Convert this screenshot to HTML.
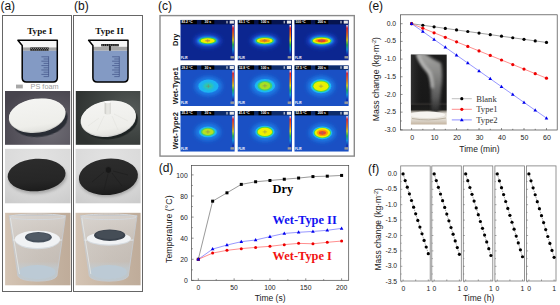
<!DOCTYPE html><html><head><meta charset="utf-8"><style>
html,body{margin:0;padding:0;background:#fff;width:560px;height:305px;overflow:hidden}
svg{display:block;position:absolute;left:0;top:0}
text{font-family:"Liberation Sans",sans-serif}
.sf{font-family:"Liberation Serif",serif;font-weight:bold}.sr{font-family:"Liberation Serif",serif}
</style></head><body>
<svg width="560" height="305" viewBox="0 0 560 305">
<defs>
<radialGradient id="hotDry" cx="0.5" cy="0.5" r="0.5">
<stop offset="0" stop-color="#ff5a10"/><stop offset="0.25" stop-color="#ffb000"/><stop offset="0.5" stop-color="#f0f000"/>
<stop offset="0.68" stop-color="#30e040"/><stop offset="0.8" stop-color="#10b0e0"/><stop offset="1" stop-color="#1840c0" stop-opacity="0"/></radialGradient>
<linearGradient id="cbar" x1="0" y1="0" x2="0" y2="1">
<stop offset="0" stop-color="#ffffff"/><stop offset="0.1" stop-color="#ff2020"/><stop offset="0.35" stop-color="#ff8000"/>
<stop offset="0.5" stop-color="#f0e000"/><stop offset="0.65" stop-color="#20c040"/><stop offset="0.8" stop-color="#10a0e0"/><stop offset="1" stop-color="#1010a0"/></linearGradient>
</defs>
<text x="0.4" y="10.0" font-size="12" fill="#111">(a)</text>
<text x="74.1" y="10.0" font-size="12" fill="#111">(b)</text>
<text x="158.0" y="10.0" font-size="12" fill="#111">(c)</text>
<text x="158.7" y="172.4" font-size="12" fill="#111">(d)</text>
<text x="368.4" y="10.0" font-size="12" fill="#111">(e)</text>
<text x="368.0" y="172.6" font-size="12" fill="#111">(f)</text>
<rect x="2.5" y="15.5" width="69" height="276" fill="none" stroke="#666" stroke-width="1"/>
<rect x="73.5" y="15.5" width="69" height="276" fill="none" stroke="#666" stroke-width="1"/>
<rect x="160" y="15.6" width="194.3" height="140.5" fill="none" stroke="#8a8a8a" stroke-width="1.4"/>

<rect x="22.200000000000003" y="40.3" width="35.1" height="7.100000000000001" fill="#f6f6f6"/>
<rect x="22.200000000000003" y="47.4" width="35.1" height="3.3999999999999986" fill="#a5a5a5"/>
<path d="M22.200000000000003 50.8 H57.300000000000004 V77.7 Q57.300000000000004 81.9 53.1 81.9 H26.400000000000002 Q22.200000000000003 81.9 22.200000000000003 77.7 Z" fill="#839ac4"/>
<line x1="41.4" y1="56.8" x2="48.6" y2="56.8" stroke="#34457a" stroke-width="0.6"/>
<line x1="43.6" y1="59.0" x2="48.6" y2="59.0" stroke="#34457a" stroke-width="0.6"/>
<line x1="41.4" y1="61.2" x2="48.6" y2="61.2" stroke="#34457a" stroke-width="0.6"/>
<line x1="43.6" y1="63.4" x2="48.6" y2="63.4" stroke="#34457a" stroke-width="0.6"/>
<line x1="41.4" y1="65.6" x2="48.6" y2="65.6" stroke="#34457a" stroke-width="0.6"/>
<line x1="43.6" y1="67.8" x2="48.6" y2="67.8" stroke="#34457a" stroke-width="0.6"/>
<line x1="41.4" y1="70.0" x2="48.6" y2="70.0" stroke="#34457a" stroke-width="0.6"/>
<line x1="43.6" y1="72.2" x2="48.6" y2="72.2" stroke="#34457a" stroke-width="0.6"/>
<line x1="41.4" y1="74.4" x2="48.6" y2="74.4" stroke="#34457a" stroke-width="0.6"/>
<line x1="43.6" y1="76.6" x2="48.6" y2="76.6" stroke="#34457a" stroke-width="0.6"/>
<line x1="48.6" y1="56.4" x2="48.6" y2="76.6" stroke="#34457a" stroke-width="0.6"/>
<path d="M17.900000000000002 40.3 L22.200000000000003 45.5 V77.7 Q22.200000000000003 81.9 26.400000000000002 81.9 H53.1 Q57.300000000000004 81.9 57.300000000000004 77.7 V40.3 Z" fill="none" stroke="#000" stroke-width="1.5" stroke-linejoin="round"/>

<rect x="92.9" y="40.3" width="35.099999999999994" height="6.5" fill="#f6f6f6"/>
<rect x="92.9" y="46.8" width="35.099999999999994" height="3.9000000000000057" fill="#a5a5a5"/>
<path d="M92.9 50.7 H128.0 V77.7 Q128.0 81.9 123.8 81.9 H97.10000000000001 Q92.9 81.9 92.9 77.7 Z" fill="#839ac4"/>
<line x1="112.1" y1="56.8" x2="119.3" y2="56.8" stroke="#34457a" stroke-width="0.6"/>
<line x1="114.3" y1="59.0" x2="119.3" y2="59.0" stroke="#34457a" stroke-width="0.6"/>
<line x1="112.1" y1="61.2" x2="119.3" y2="61.2" stroke="#34457a" stroke-width="0.6"/>
<line x1="114.3" y1="63.4" x2="119.3" y2="63.4" stroke="#34457a" stroke-width="0.6"/>
<line x1="112.1" y1="65.6" x2="119.3" y2="65.6" stroke="#34457a" stroke-width="0.6"/>
<line x1="114.3" y1="67.8" x2="119.3" y2="67.8" stroke="#34457a" stroke-width="0.6"/>
<line x1="112.1" y1="70.0" x2="119.3" y2="70.0" stroke="#34457a" stroke-width="0.6"/>
<line x1="114.3" y1="72.2" x2="119.3" y2="72.2" stroke="#34457a" stroke-width="0.6"/>
<line x1="112.1" y1="74.4" x2="119.3" y2="74.4" stroke="#34457a" stroke-width="0.6"/>
<line x1="114.3" y1="76.6" x2="119.3" y2="76.6" stroke="#34457a" stroke-width="0.6"/>
<line x1="119.3" y1="56.4" x2="119.3" y2="76.6" stroke="#34457a" stroke-width="0.6"/>
<path d="M88.6 40.3 L92.9 45.5 V77.7 Q92.9 81.9 97.10000000000001 81.9 H123.8 Q128.0 81.9 128.0 77.7 V40.3 Z" fill="none" stroke="#000" stroke-width="1.5" stroke-linejoin="round"/>
<rect x="30.3" y="47.5" width="18.4" height="3.2" fill="#1a1a1a"/>
<rect x="30.9" y="48.0" width="1.0" height="0.9" fill="#9a9a9a"/>
<rect x="31.9" y="49.4" width="1.0" height="0.9" fill="#9a9a9a"/>
<rect x="32.9" y="48.0" width="1.0" height="0.9" fill="#9a9a9a"/>
<rect x="33.9" y="49.4" width="1.0" height="0.9" fill="#9a9a9a"/>
<rect x="34.9" y="48.0" width="1.0" height="0.9" fill="#9a9a9a"/>
<rect x="35.9" y="49.4" width="1.0" height="0.9" fill="#9a9a9a"/>
<rect x="36.9" y="48.0" width="1.0" height="0.9" fill="#9a9a9a"/>
<rect x="37.9" y="49.4" width="1.0" height="0.9" fill="#9a9a9a"/>
<rect x="38.9" y="48.0" width="1.0" height="0.9" fill="#9a9a9a"/>
<rect x="39.9" y="49.4" width="1.0" height="0.9" fill="#9a9a9a"/>
<rect x="40.9" y="48.0" width="1.0" height="0.9" fill="#9a9a9a"/>
<rect x="41.9" y="49.4" width="1.0" height="0.9" fill="#9a9a9a"/>
<rect x="42.9" y="48.0" width="1.0" height="0.9" fill="#9a9a9a"/>
<rect x="43.9" y="49.4" width="1.0" height="0.9" fill="#9a9a9a"/>
<rect x="44.9" y="48.0" width="1.0" height="0.9" fill="#9a9a9a"/>
<rect x="45.9" y="49.4" width="1.0" height="0.9" fill="#9a9a9a"/>
<rect x="46.9" y="48.0" width="1.0" height="0.9" fill="#9a9a9a"/>
<rect x="47.9" y="49.4" width="1.0" height="0.9" fill="#9a9a9a"/>
<rect x="101.2" y="44.0" width="17.6" height="2.3" fill="#1a1a1a"/>
<rect x="101.8" y="44.6" width="1.0" height="1.0" fill="#9a9a9a"/>
<rect x="103.9" y="44.6" width="1.0" height="1.0" fill="#9a9a9a"/>
<rect x="106.0" y="44.6" width="1.0" height="1.0" fill="#9a9a9a"/>
<rect x="108.1" y="44.6" width="1.0" height="1.0" fill="#9a9a9a"/>
<rect x="110.2" y="44.6" width="1.0" height="1.0" fill="#9a9a9a"/>
<rect x="112.3" y="44.6" width="1.0" height="1.0" fill="#9a9a9a"/>
<rect x="114.4" y="44.6" width="1.0" height="1.0" fill="#9a9a9a"/>
<rect x="116.5" y="44.6" width="1.0" height="1.0" fill="#9a9a9a"/>
<rect x="109.0" y="46.0" width="1.9" height="4.7" fill="#1a1a1a"/>
<text class="sf" x="39.7" y="33.5" font-size="9.2" fill="#111" text-anchor="middle">Type I</text>
<text class="sf" x="109.5" y="33.5" font-size="9.1" fill="#111" text-anchor="middle">Type II</text>
<rect x="16.0" y="84.6" width="6.8" height="3.8" fill="#a8a8a8"/>
<text x="30.6" y="88.5" font-size="7.3" fill="#9c9c9c">PS foam</text>
<defs><linearGradient id="bgA1" x1="0" y1="0" x2="1" y2="1">
<stop offset="0" stop-color="#3e3c42"/><stop offset="0.6" stop-color="#5c5a62"/><stop offset="1" stop-color="#48464c"/></linearGradient>
<linearGradient id="bgB1" x1="0" y1="0" x2="1" y2="1">
<stop offset="0" stop-color="#353a38"/><stop offset="0.6" stop-color="#535856"/><stop offset="1" stop-color="#3d4240"/></linearGradient>
<linearGradient id="bgA2" x1="0" y1="0" x2="0" y2="1">
<stop offset="0" stop-color="#dadada"/><stop offset="1" stop-color="#cacaca"/></linearGradient>
<linearGradient id="bgA3" x1="0" y1="0" x2="1" y2="0">
<stop offset="0" stop-color="#d4c4b4"/><stop offset="0.5" stop-color="#c8b6a4"/><stop offset="1" stop-color="#bfac9a"/></linearGradient>
<linearGradient id="glass" x1="0" y1="0" x2="0" y2="1">
<stop offset="0" stop-color="#dde2e4"/><stop offset="0.7" stop-color="#d0dade"/><stop offset="0.82" stop-color="#b8ccd8"/><stop offset="1" stop-color="#a9c0d0"/></linearGradient>
<filter id="bl1" x="-20%" y="-20%" width="140%" height="140%"><feGaussianBlur stdDeviation="1.5"/></filter>
<filter id="bl05" x="-20%" y="-20%" width="140%" height="140%"><feGaussianBlur stdDeviation="0.6"/></filter>
</defs>
<defs>
<radialGradient id="bgA1r" cx="0.7" cy="0.75" r="0.85"><stop offset="0" stop-color="#6e6c74"/><stop offset="0.5" stop-color="#5a5760"/><stop offset="1" stop-color="#47444d"/></radialGradient>
<radialGradient id="bgB1r" cx="0.85" cy="0.35" r="0.9"><stop offset="0" stop-color="#555a58"/><stop offset="0.5" stop-color="#404543"/><stop offset="1" stop-color="#2e3230"/></radialGradient>
<radialGradient id="bgA2r" cx="0.5" cy="0.2" r="0.9"><stop offset="0" stop-color="#e2e2e2"/><stop offset="0.6" stop-color="#dadada"/><stop offset="1" stop-color="#cccccc"/></radialGradient>
<linearGradient id="diskW" x1="0" y1="0" x2="0" y2="1"><stop offset="0" stop-color="#f4f4f2"/><stop offset="0.8" stop-color="#eeeeea"/><stop offset="1" stop-color="#e2e2de"/></linearGradient>
<linearGradient id="diskK" x1="0" y1="0" x2="0" y2="1"><stop offset="0" stop-color="#2c2c2c"/><stop offset="0.7" stop-color="#262626"/><stop offset="1" stop-color="#1c1c1c"/></linearGradient>
</defs>
<rect x="5" y="91" width="65.2" height="53.8" fill="url(#bgA1r)"/>
<ellipse cx="40.0" cy="120.0" rx="27.8" ry="16.8" fill="#262a32" opacity="0.95" filter="url(#bl05)" transform="rotate(-8 40.0 120.0)"/>
<ellipse cx="37.2" cy="115.8" rx="28.6" ry="16.8" fill="#cfcfcb" transform="rotate(-8 37.2 115.8)"/>
<ellipse cx="37.2" cy="115.1" rx="28.4" ry="16.4" fill="url(#diskW)" transform="rotate(-8 37.2 115.1)"/>
<rect x="75.8" y="91" width="64.5" height="53.8" fill="url(#bgB1r)"/>
<ellipse cx="110.5" cy="121.5" rx="27.5" ry="17.5" fill="#1e2422" opacity="0.95" filter="url(#bl05)" transform="rotate(-9 110.5 121.5)"/>
<ellipse cx="108.3" cy="119.0" rx="27.9" ry="17.7" fill="#d4d4d2" transform="rotate(-9 108.3 119.0)"/>
<ellipse cx="108.3" cy="118.2" rx="27.7" ry="17.3" fill="url(#diskW)" transform="rotate(-9 108.3 118.2)"/>
<path d="M99 118 L88 126 M104 116 L97 131 M112 116 L118 130 M114 114 L128 121" stroke="#e2e2de" stroke-width="0.6" fill="none"/>
<path d="M104.6 102.3 Q107.7 100.8 110.8 102.3 V113.5 Q107.7 115.8 104.6 113.5 Z" fill="#e6e6e2"/>
<path d="M104.6 102.3 Q105.5 102 106.2 101.8 V114.4 Q105.4 114.1 104.6 113.5 Z" fill="#d2d2ce"/>
<path d="M109.6 101.7 Q110.4 101.9 110.8 102.3 V113.5 Q110.2 114.2 109.6 114.5 Z" fill="#dadad6"/>
<ellipse cx="107.7" cy="102.2" rx="3.1" ry="1.1" fill="#fafafa"/>
<rect x="5" y="148.8" width="65.5" height="54.5" fill="url(#bgA2r)"/>
<ellipse cx="37.5" cy="177.5" rx="29" ry="16" fill="#8a8a8a" opacity="0.7" filter="url(#bl1)" transform="rotate(-4 37.5 177.5)"/>
<ellipse cx="36.6" cy="175" rx="29" ry="16.2" fill="url(#diskK)" transform="rotate(-4 36.6 175)"/>
<rect x="75.6" y="148.8" width="65" height="54.5" fill="url(#bgA2r)"/>
<ellipse cx="109" cy="179" rx="29.5" ry="17.5" fill="#8a8a8a" opacity="0.7" filter="url(#bl1)" transform="rotate(-5 109 179)"/>
<ellipse cx="108.4" cy="176.8" rx="29.6" ry="18.2" fill="url(#diskK)" transform="rotate(-5 108.4 176.8)"/>
<ellipse cx="108.4" cy="170" rx="3.2" ry="3.4" fill="#181818" stroke="#333" stroke-width="0.5"/>
<path d="M104 172 L92 182 M108 174 L104 190 M112 173 L122 186 M113 171 L128 175" stroke="#1c1c1c" stroke-width="0.6" fill="none"/>
<defs><linearGradient id="glass2" x1="0" y1="0" x2="0" y2="1">
<stop offset="0" stop-color="#dcdcdc" stop-opacity="0.7"/><stop offset="0.35" stop-color="#d0d2d4" stop-opacity="0.55"/><stop offset="0.7" stop-color="#c8ced4" stop-opacity="0.45"/><stop offset="0.8" stop-color="#c0ccd4" stop-opacity="0.8"/><stop offset="1" stop-color="#bccad4" stop-opacity="0.9"/></linearGradient></defs>
<rect x="5.1" y="212.8" width="65.4" height="72.5" fill="url(#bgA3)"/>
<path d="M9.2 215.5 L17.9 276 Q20.4 281 37.4 281.2 Q54.4 281 56.9 276 L65.6 215.5 Z" fill="url(#glass2)" stroke="#c6cace" stroke-width="0.9"/>
<ellipse cx="37.4" cy="216.8" rx="27.6" ry="2.8" fill="none" stroke="#d4d8dc" stroke-width="1.0"/>
<path d="M12.899999999999999 240 Q37.4 243 61.9 240" stroke="#e8ecef" stroke-width="0.9" fill="none"/>
<ellipse cx="37.4" cy="272" rx="18" ry="7" fill="#bccbd6" opacity="0.95" filter="url(#bl05)"/>
<path d="M10.399999999999999 218 L19.4 274" stroke="#e4e8ea" stroke-width="1.0" opacity="0.8" fill="none"/>
<ellipse cx="37.4" cy="240.10000000000002" rx="22.6" ry="9.1" fill="#d6dbe0"/>
<ellipse cx="37.4" cy="239.3" rx="22.6" ry="8.6" fill="#f0f2f4"/>
<ellipse cx="38.4" cy="237.3" rx="13.4" ry="5.2" fill="#46505c"/>
<ellipse cx="38.4" cy="236.70000000000002" rx="11.4" ry="3.8000000000000003" fill="#fff" opacity="0.06"/>
<rect x="75.6" y="212.8" width="65.0" height="72.5" fill="url(#bgA3)"/>
<path d="M80.6 215.5 L89.3 276 Q91.8 281 108.8 281.2 Q125.8 281 128.3 276 L137.0 215.5 Z" fill="url(#glass2)" stroke="#c6cace" stroke-width="0.9"/>
<ellipse cx="108.8" cy="216.8" rx="27.6" ry="2.8" fill="none" stroke="#d4d8dc" stroke-width="1.0"/>
<path d="M84.3 240 Q108.8 243 133.3 240" stroke="#e8ecef" stroke-width="0.9" fill="none"/>
<ellipse cx="108.8" cy="272" rx="18" ry="7" fill="#bccbd6" opacity="0.95" filter="url(#bl05)"/>
<path d="M81.8 218 L90.8 274" stroke="#e4e8ea" stroke-width="1.0" opacity="0.8" fill="none"/>
<ellipse cx="108.8" cy="239.20000000000002" rx="22.0" ry="6.6" fill="#d6dbe0"/>
<ellipse cx="108.8" cy="238.4" rx="22.0" ry="6.1" fill="#f0f2f4"/>
<ellipse cx="109.7" cy="235.2" rx="15.6" ry="5.8" fill="#3a424c"/>
<ellipse cx="109.7" cy="234.6" rx="13.6" ry="4.4" fill="#fff" opacity="0.06"/>
<defs><filter id="tb2" x="-50%" y="-50%" width="200%" height="200%"><feGaussianBlur stdDeviation="2.2"/></filter><filter id="tb1" x="-50%" y="-50%" width="200%" height="200%"><feGaussianBlur stdDeviation="0.9"/></filter><filter id="tb05" x="-50%" y="-50%" width="200%" height="200%"><feGaussianBlur stdDeviation="0.55"/></filter><clipPath id="tclip"><rect x="0" y="0" width="54.5" height="40.8"/></clipPath></defs>
<g transform="translate(180.3 19.8)"><g clip-path="url(#tclip)">
<rect x="0" y="0" width="54.5" height="40.8" fill="#0c2690"/>
<rect x="0" y="0" width="54.5" height="4.6" fill="#000" opacity="0.45"/>
<ellipse cx="27.40" cy="20.90" rx="13.5" ry="6.8" fill="#1a48d0" filter="url(#tb2)"/>
<ellipse cx="27.40" cy="20.90" rx="10.3" ry="4.3" fill="#18a8f0" filter="url(#tb1)"/>
<ellipse cx="27.40" cy="20.90" rx="8.6" ry="3.3" fill="#40d040" filter="url(#tb05)"/>
<ellipse cx="27.40" cy="20.90" rx="7" ry="2.5" fill="#f0f000" filter="url(#tb05)"/>
<ellipse cx="27.40" cy="20.90" rx="2.8" ry="1.0" fill="#f0b020" filter="url(#tb05)"/>
<path d="M25.20 20.90 H29.60 M27.40 19.10 V22.70" stroke="#8a7a60" stroke-width="0.6" opacity="0.8"/>
<rect x="0.6" y="0.3" width="16" height="4" fill="#000"/>
<text x="1.2" y="3.4" font-size="3.3" fill="#fff" font-weight="bold">83.2 °C</text>
<rect x="21" y="0.3" width="13" height="4" fill="#000"/>
<text x="27.5" y="3.4" font-size="3.3" fill="#fff" font-weight="bold" text-anchor="middle">30 s</text>
<rect x="46.2" y="1.0" width="1" height="2.6" fill="#eee"/>
<rect x="49.4" y="0.8" width="4.2" height="3" fill="#e8e8e8"/>
<rect x="52.0" y="5.2" width="1.5" height="30.5" fill="url(#cbar)"/>
<rect x="50.2" y="36.3" width="3.6" height="2.4" fill="#999"/>
<text x="0.8" y="39.3" font-size="2.9" fill="#fff" font-weight="bold">FLIR</text>
</g></g>
<g transform="translate(237.5 19.8)"><g clip-path="url(#tclip)">
<rect x="0" y="0" width="54.5" height="40.8" fill="#0c2690"/>
<rect x="0" y="0" width="54.5" height="4.6" fill="#000" opacity="0.45"/>
<ellipse cx="27.20" cy="20.90" rx="14" ry="7" fill="#1a48d0" filter="url(#tb2)"/>
<ellipse cx="27.20" cy="20.90" rx="11" ry="4.6" fill="#18a8f0" filter="url(#tb1)"/>
<ellipse cx="27.20" cy="20.90" rx="9.2" ry="3.5" fill="#40d040" filter="url(#tb05)"/>
<ellipse cx="27.20" cy="20.90" rx="7.8" ry="2.7" fill="#f0f000" filter="url(#tb05)"/>
<ellipse cx="27.20" cy="20.90" rx="5.2" ry="1.6" fill="#f8a000" filter="url(#tb05)"/>
<ellipse cx="27.20" cy="20.90" rx="2.5" ry="0.8" fill="#f07020" filter="url(#tb05)"/>
<path d="M25.00 20.90 H29.40 M27.20 19.10 V22.70" stroke="#8a7a60" stroke-width="0.6" opacity="0.8"/>
<rect x="0.6" y="0.3" width="16" height="4" fill="#000"/>
<text x="1.2" y="3.4" font-size="3.3" fill="#fff" font-weight="bold">83.1 °C</text>
<rect x="21" y="0.3" width="13" height="4" fill="#000"/>
<text x="27.5" y="3.4" font-size="3.3" fill="#fff" font-weight="bold" text-anchor="middle">100 s</text>
<rect x="46.2" y="1.0" width="1" height="2.6" fill="#eee"/>
<rect x="49.4" y="0.8" width="4.2" height="3" fill="#e8e8e8"/>
<rect x="52.0" y="5.2" width="1.5" height="30.5" fill="url(#cbar)"/>
<rect x="50.2" y="36.3" width="3.6" height="2.4" fill="#999"/>
<text x="0.8" y="39.3" font-size="2.9" fill="#fff" font-weight="bold">FLIR</text>
</g></g>
<g transform="translate(294.3 19.8)"><g clip-path="url(#tclip)">
<rect x="0" y="0" width="54.5" height="40.8" fill="#0c2690"/>
<rect x="0" y="0" width="54.5" height="4.6" fill="#000" opacity="0.45"/>
<ellipse cx="27.40" cy="20.90" rx="14.5" ry="7.2" fill="#1a48d0" filter="url(#tb2)"/>
<ellipse cx="27.40" cy="20.90" rx="11.5" ry="4.8" fill="#18a8f0" filter="url(#tb1)"/>
<ellipse cx="27.40" cy="20.90" rx="9.8" ry="3.8" fill="#40d040" filter="url(#tb05)"/>
<ellipse cx="27.40" cy="20.90" rx="8.9" ry="3.0" fill="#f0f000" filter="url(#tb05)"/>
<ellipse cx="27.40" cy="20.90" rx="6.5" ry="2.0" fill="#ff9000" filter="url(#tb05)"/>
<ellipse cx="27.40" cy="20.90" rx="4" ry="1.2" fill="#f03030" filter="url(#tb05)"/>
<path d="M25.20 20.90 H29.60 M27.40 19.10 V22.70" stroke="#8a7a60" stroke-width="0.6" opacity="0.8"/>
<rect x="0.6" y="0.3" width="16" height="4" fill="#000"/>
<text x="1.2" y="3.4" font-size="3.3" fill="#fff" font-weight="bold">100 °C</text>
<rect x="21" y="0.3" width="13" height="4" fill="#000"/>
<text x="27.5" y="3.4" font-size="3.3" fill="#fff" font-weight="bold" text-anchor="middle">200 s</text>
<rect x="46.2" y="1.0" width="1" height="2.6" fill="#eee"/>
<rect x="49.4" y="0.8" width="4.2" height="3" fill="#e8e8e8"/>
<rect x="52.0" y="5.2" width="1.5" height="30.5" fill="url(#cbar)"/>
<rect x="50.2" y="36.3" width="3.6" height="2.4" fill="#999"/>
<text x="0.8" y="39.3" font-size="2.9" fill="#fff" font-weight="bold">FLIR</text>
</g></g>
<g transform="translate(180.3 65.2)"><g clip-path="url(#tclip)">
<rect x="0" y="0" width="54.5" height="40.8" fill="#1a50c4"/>
<rect x="0" y="0" width="54.5" height="4.6" fill="#000" opacity="0.45"/>
<ellipse cx="28.10" cy="21.00" rx="13.5" ry="9.5" fill="#1e80e8" filter="url(#tb2)"/>
<ellipse cx="28.10" cy="21.00" rx="10.0" ry="6.6" fill="#1cb4f2" filter="url(#tb05)"/>
<ellipse cx="28.10" cy="21.00" rx="5.0" ry="3.4" fill="#30c8a8" filter="url(#tb1)"/>
<path d="M25.90 21.00 H30.30 M28.10 19.20 V22.80" stroke="#8a7a60" stroke-width="0.6" opacity="0.8"/>
<rect x="0.6" y="0.3" width="16" height="4" fill="#000"/>
<text x="1.2" y="3.4" font-size="3.3" fill="#fff" font-weight="bold">29.2 °C</text>
<rect x="21" y="0.3" width="13" height="4" fill="#000"/>
<text x="27.5" y="3.4" font-size="3.3" fill="#fff" font-weight="bold" text-anchor="middle">30 s</text>
<rect x="46.2" y="1.0" width="1" height="2.6" fill="#eee"/>
<rect x="49.4" y="0.8" width="4.2" height="3" fill="#e8e8e8"/>
<rect x="52.0" y="5.2" width="1.5" height="30.5" fill="url(#cbar)"/>
<rect x="50.2" y="36.3" width="3.6" height="2.4" fill="#999"/>
<text x="0.8" y="39.3" font-size="2.9" fill="#fff" font-weight="bold">FLIR</text>
</g></g>
<g transform="translate(237.5 65.2)"><g clip-path="url(#tclip)">
<rect x="0" y="0" width="54.5" height="40.8" fill="#1a50c4"/>
<rect x="0" y="0" width="54.5" height="4.6" fill="#000" opacity="0.45"/>
<ellipse cx="27.40" cy="20.60" rx="13.5" ry="9.8" fill="#1e80e8" filter="url(#tb2)"/>
<ellipse cx="27.40" cy="20.60" rx="10.2" ry="6.8" fill="#1cb8f2" filter="url(#tb05)"/>
<ellipse cx="27.40" cy="20.60" rx="7.4" ry="4.9" fill="#40d070" filter="url(#tb05)"/>
<ellipse cx="27.40" cy="20.60" rx="5.4" ry="3.7" fill="#a8e020" filter="url(#tb05)"/>
<path d="M25.20 20.60 H29.60 M27.40 18.80 V22.40" stroke="#8a7a60" stroke-width="0.6" opacity="0.8"/>
<rect x="0.6" y="0.3" width="16" height="4" fill="#000"/>
<text x="1.2" y="3.4" font-size="3.3" fill="#fff" font-weight="bold">32.8 °C</text>
<rect x="21" y="0.3" width="13" height="4" fill="#000"/>
<text x="27.5" y="3.4" font-size="3.3" fill="#fff" font-weight="bold" text-anchor="middle">100 s</text>
<rect x="46.2" y="1.0" width="1" height="2.6" fill="#eee"/>
<rect x="49.4" y="0.8" width="4.2" height="3" fill="#e8e8e8"/>
<rect x="52.0" y="5.2" width="1.5" height="30.5" fill="url(#cbar)"/>
<rect x="50.2" y="36.3" width="3.6" height="2.4" fill="#999"/>
<text x="0.8" y="39.3" font-size="2.9" fill="#fff" font-weight="bold">FLIR</text>
</g></g>
<g transform="translate(294.3 65.2)"><g clip-path="url(#tclip)">
<rect x="0" y="0" width="54.5" height="40.8" fill="#1a50c4"/>
<rect x="0" y="0" width="54.5" height="4.6" fill="#000" opacity="0.45"/>
<ellipse cx="26.70" cy="21.00" rx="13.5" ry="10" fill="#1e80e8" filter="url(#tb2)"/>
<ellipse cx="26.70" cy="21.00" rx="10.2" ry="7.0" fill="#1cbcf2" filter="url(#tb05)"/>
<ellipse cx="26.70" cy="21.00" rx="8.6" ry="5.8" fill="#50d840" filter="url(#tb05)"/>
<ellipse cx="26.70" cy="21.00" rx="7.5" ry="4.8" fill="#e8f000" filter="url(#tb05)"/>
<path d="M24.50 21.00 H28.90 M26.70 19.20 V22.80" stroke="#8a7a60" stroke-width="0.6" opacity="0.8"/>
<rect x="0.6" y="0.3" width="16" height="4" fill="#000"/>
<text x="1.2" y="3.4" font-size="3.3" fill="#fff" font-weight="bold">37.5 °C</text>
<rect x="21" y="0.3" width="13" height="4" fill="#000"/>
<text x="27.5" y="3.4" font-size="3.3" fill="#fff" font-weight="bold" text-anchor="middle">200 s</text>
<rect x="46.2" y="1.0" width="1" height="2.6" fill="#eee"/>
<rect x="49.4" y="0.8" width="4.2" height="3" fill="#e8e8e8"/>
<rect x="52.0" y="5.2" width="1.5" height="30.5" fill="url(#cbar)"/>
<rect x="50.2" y="36.3" width="3.6" height="2.4" fill="#999"/>
<text x="0.8" y="39.3" font-size="2.9" fill="#fff" font-weight="bold">FLIR</text>
</g></g>
<g transform="translate(180.3 110.9)"><g clip-path="url(#tclip)">
<rect x="0" y="0" width="54.5" height="40.8" fill="#1a50c4"/>
<rect x="0" y="0" width="54.5" height="4.6" fill="#000" opacity="0.45"/>
<ellipse cx="27.60" cy="21.00" rx="12.5" ry="8.5" fill="#1e80e8" filter="url(#tb2)"/>
<ellipse cx="27.60" cy="21.00" rx="9.0" ry="5.3" fill="#1cb8f2" filter="url(#tb05)"/>
<ellipse cx="27.60" cy="21.00" rx="7.0" ry="4.1" fill="#50d060" filter="url(#tb05)"/>
<ellipse cx="27.60" cy="21.00" rx="5.6" ry="3.1" fill="#b8e020" filter="url(#tb05)"/>
<path d="M25.40 21.00 H29.80 M27.60 19.20 V22.80" stroke="#8a7a60" stroke-width="0.6" opacity="0.8"/>
<rect x="0.6" y="0.3" width="16" height="4" fill="#000"/>
<text x="1.2" y="3.4" font-size="3.3" fill="#fff" font-weight="bold">35.3 °C</text>
<rect x="21" y="0.3" width="13" height="4" fill="#000"/>
<text x="27.5" y="3.4" font-size="3.3" fill="#fff" font-weight="bold" text-anchor="middle">30 s</text>
<rect x="46.2" y="1.0" width="1" height="2.6" fill="#eee"/>
<rect x="49.4" y="0.8" width="4.2" height="3" fill="#e8e8e8"/>
<rect x="52.0" y="5.2" width="1.5" height="30.5" fill="url(#cbar)"/>
<rect x="50.2" y="36.3" width="3.6" height="2.4" fill="#999"/>
<text x="0.8" y="39.3" font-size="2.9" fill="#fff" font-weight="bold">FLIR</text>
</g></g>
<g transform="translate(237.5 110.9)"><g clip-path="url(#tclip)">
<rect x="0" y="0" width="54.5" height="40.8" fill="#1a50c4"/>
<rect x="0" y="0" width="54.5" height="4.6" fill="#000" opacity="0.45"/>
<ellipse cx="27.40" cy="21.00" rx="13" ry="9" fill="#1e80e8" filter="url(#tb2)"/>
<ellipse cx="27.40" cy="21.00" rx="9.6" ry="6.1" fill="#1cbcf2" filter="url(#tb05)"/>
<ellipse cx="27.40" cy="21.00" rx="8.2" ry="5.1" fill="#50d840" filter="url(#tb05)"/>
<ellipse cx="27.40" cy="21.00" rx="7.2" ry="4.2" fill="#f0f000" filter="url(#tb05)"/>
<path d="M25.20 21.00 H29.60 M27.40 19.20 V22.80" stroke="#8a7a60" stroke-width="0.6" opacity="0.8"/>
<rect x="0.6" y="0.3" width="16" height="4" fill="#000"/>
<text x="1.2" y="3.4" font-size="3.3" fill="#fff" font-weight="bold">41.6 °C</text>
<rect x="21" y="0.3" width="13" height="4" fill="#000"/>
<text x="27.5" y="3.4" font-size="3.3" fill="#fff" font-weight="bold" text-anchor="middle">100 s</text>
<rect x="46.2" y="1.0" width="1" height="2.6" fill="#eee"/>
<rect x="49.4" y="0.8" width="4.2" height="3" fill="#e8e8e8"/>
<rect x="52.0" y="5.2" width="1.5" height="30.5" fill="url(#cbar)"/>
<rect x="50.2" y="36.3" width="3.6" height="2.4" fill="#999"/>
<text x="0.8" y="39.3" font-size="2.9" fill="#fff" font-weight="bold">FLIR</text>
</g></g>
<g transform="translate(294.3 110.9)"><g clip-path="url(#tclip)">
<rect x="0" y="0" width="54.5" height="40.8" fill="#1a50c4"/>
<rect x="0" y="0" width="54.5" height="4.6" fill="#000" opacity="0.45"/>
<ellipse cx="28.10" cy="21.90" rx="13" ry="9" fill="#1e80e8" filter="url(#tb2)"/>
<ellipse cx="28.10" cy="21.90" rx="9.8" ry="6.4" fill="#1cbcf2" filter="url(#tb05)"/>
<ellipse cx="28.10" cy="21.90" rx="8.6" ry="5.4" fill="#50d840" filter="url(#tb05)"/>
<ellipse cx="28.10" cy="21.90" rx="7.7" ry="4.7" fill="#f0f000" filter="url(#tb05)"/>
<ellipse cx="28.10" cy="21.90" rx="5.6" ry="3.3" fill="#ffa000" filter="url(#tb05)"/>
<ellipse cx="28.10" cy="21.90" rx="3.6" ry="1.9" fill="#f04030" filter="url(#tb05)"/>
<path d="M25.90 21.90 H30.30 M28.10 20.10 V23.70" stroke="#8a7a60" stroke-width="0.6" opacity="0.8"/>
<rect x="0.6" y="0.3" width="16" height="4" fill="#000"/>
<text x="1.2" y="3.4" font-size="3.3" fill="#fff" font-weight="bold">52.5 °C</text>
<rect x="21" y="0.3" width="13" height="4" fill="#000"/>
<text x="27.5" y="3.4" font-size="3.3" fill="#fff" font-weight="bold" text-anchor="middle">200 s</text>
<rect x="46.2" y="1.0" width="1" height="2.6" fill="#eee"/>
<rect x="49.4" y="0.8" width="4.2" height="3" fill="#e8e8e8"/>
<rect x="52.0" y="5.2" width="1.5" height="30.5" fill="url(#cbar)"/>
<rect x="50.2" y="36.3" width="3.6" height="2.4" fill="#999"/>
<text x="0.8" y="39.3" font-size="2.9" fill="#fff" font-weight="bold">FLIR</text>
</g></g>
<text x="0" y="0" font-size="6.8" font-weight="bold" fill="#111" text-anchor="middle" transform="translate(177.5 39.7) rotate(-90) scale(1.1 1)">Dry</text>
<text x="0" y="0" font-size="6.8" font-weight="bold" fill="#111" text-anchor="middle" transform="translate(177.5 85.7) rotate(-90) scale(1.1 1)">Wet-Type1</text>
<text x="0" y="0" font-size="6.8" font-weight="bold" fill="#111" text-anchor="middle" transform="translate(177.5 130.7) rotate(-90) scale(1.1 1)">Wet-Type2</text>
<rect x="191.6" y="165.6" width="157.1" height="114.70000000000002" fill="none" stroke="#444" stroke-width="0.7"/>
<line x1="191.6" y1="280.40" x2="193.6" y2="280.40" stroke="#444" stroke-width="0.6"/>
<line x1="191.6" y1="269.85" x2="192.79999999999998" y2="269.85" stroke="#444" stroke-width="0.6"/>
<line x1="191.6" y1="259.30" x2="193.6" y2="259.30" stroke="#444" stroke-width="0.6"/>
<line x1="191.6" y1="248.75" x2="192.79999999999998" y2="248.75" stroke="#444" stroke-width="0.6"/>
<line x1="191.6" y1="238.20" x2="193.6" y2="238.20" stroke="#444" stroke-width="0.6"/>
<line x1="191.6" y1="227.65" x2="192.79999999999998" y2="227.65" stroke="#444" stroke-width="0.6"/>
<line x1="191.6" y1="217.10" x2="193.6" y2="217.10" stroke="#444" stroke-width="0.6"/>
<line x1="191.6" y1="206.55" x2="192.79999999999998" y2="206.55" stroke="#444" stroke-width="0.6"/>
<line x1="191.6" y1="196.00" x2="193.6" y2="196.00" stroke="#444" stroke-width="0.6"/>
<line x1="191.6" y1="185.45" x2="192.79999999999998" y2="185.45" stroke="#444" stroke-width="0.6"/>
<line x1="191.6" y1="174.90" x2="193.6" y2="174.90" stroke="#444" stroke-width="0.6"/>
<text x="187.7" y="283.30" font-size="6.8" fill="#222" text-anchor="end">0</text>
<text x="187.7" y="262.20" font-size="6.8" fill="#222" text-anchor="end">20</text>
<text x="187.7" y="241.10" font-size="6.8" fill="#222" text-anchor="end">40</text>
<text x="187.7" y="220.00" font-size="6.8" fill="#222" text-anchor="end">60</text>
<text x="187.7" y="198.90" font-size="6.8" fill="#222" text-anchor="end">80</text>
<text x="187.7" y="177.80" font-size="6.8" fill="#222" text-anchor="end">100</text>
<line x1="198.30" y1="280.3" x2="198.30" y2="278.3" stroke="#444" stroke-width="0.6"/>
<line x1="216.21" y1="280.3" x2="216.21" y2="279.1" stroke="#444" stroke-width="0.6"/>
<line x1="234.12" y1="280.3" x2="234.12" y2="278.3" stroke="#444" stroke-width="0.6"/>
<line x1="252.04" y1="280.3" x2="252.04" y2="279.1" stroke="#444" stroke-width="0.6"/>
<line x1="269.95" y1="280.3" x2="269.95" y2="278.3" stroke="#444" stroke-width="0.6"/>
<line x1="287.86" y1="280.3" x2="287.86" y2="279.1" stroke="#444" stroke-width="0.6"/>
<line x1="305.78" y1="280.3" x2="305.78" y2="278.3" stroke="#444" stroke-width="0.6"/>
<line x1="323.69" y1="280.3" x2="323.69" y2="279.1" stroke="#444" stroke-width="0.6"/>
<line x1="341.60" y1="280.3" x2="341.60" y2="278.3" stroke="#444" stroke-width="0.6"/>
<text x="198.30" y="289.60" font-size="6.8" fill="#222" text-anchor="middle">0</text>
<text x="234.12" y="289.60" font-size="6.8" fill="#222" text-anchor="middle">50</text>
<text x="269.95" y="289.60" font-size="6.8" fill="#222" text-anchor="middle">100</text>
<text x="305.78" y="289.60" font-size="6.8" fill="#222" text-anchor="middle">150</text>
<text x="341.60" y="289.60" font-size="6.8" fill="#222" text-anchor="middle">200</text>
<text x="270.1" y="301.1" font-size="8.5" fill="#222" text-anchor="middle">Time (s)</text>
<text x="0" y="0" font-size="8.8" fill="#222" text-anchor="middle" transform="translate(171.8 229.2) rotate(-90)">Temperature (°C)</text>
<polyline points="198.30,259.30 212.63,201.17 226.96,192.83 241.29,184.39 255.62,181.76 269.95,180.49 284.28,179.23 298.61,178.06 312.94,176.59 327.27,176.17 341.60,175.43" fill="none" stroke="#444" stroke-width="0.55"/>
<polyline points="198.30,259.30 212.63,249.07 226.96,245.06 241.29,241.68 255.62,239.99 269.95,236.62 284.28,233.45 298.61,232.29 312.94,231.45 327.27,230.29 341.60,228.39" fill="none" stroke="#4040ff" stroke-width="0.55"/>
<polyline points="198.30,259.30 212.63,253.08 226.96,250.33 241.29,248.64 255.62,247.38 269.95,246.32 284.28,244.64 298.61,243.37 312.94,243.79 327.27,242.31 341.60,241.05" fill="none" stroke="#ff3030" stroke-width="0.55"/>
<rect x="196.80" y="257.80" width="3" height="3" fill="#000"/>
<rect x="211.13" y="199.67" width="3" height="3" fill="#000"/>
<rect x="225.46" y="191.33" width="3" height="3" fill="#000"/>
<rect x="239.79" y="182.89" width="3" height="3" fill="#000"/>
<rect x="254.12" y="180.26" width="3" height="3" fill="#000"/>
<rect x="268.45" y="178.99" width="3" height="3" fill="#000"/>
<rect x="282.78" y="177.73" width="3" height="3" fill="#000"/>
<rect x="297.11" y="176.56" width="3" height="3" fill="#000"/>
<rect x="311.44" y="175.09" width="3" height="3" fill="#000"/>
<rect x="325.77" y="174.67" width="3" height="3" fill="#000"/>
<rect x="340.10" y="173.93" width="3" height="3" fill="#000"/>
<circle cx="198.30" cy="259.30" r="1.5" fill="#ee0000"/>
<circle cx="212.63" cy="253.08" r="1.5" fill="#ee0000"/>
<circle cx="226.96" cy="250.33" r="1.5" fill="#ee0000"/>
<circle cx="241.29" cy="248.64" r="1.5" fill="#ee0000"/>
<circle cx="255.62" cy="247.38" r="1.5" fill="#ee0000"/>
<circle cx="269.95" cy="246.32" r="1.5" fill="#ee0000"/>
<circle cx="284.28" cy="244.64" r="1.5" fill="#ee0000"/>
<circle cx="298.61" cy="243.37" r="1.5" fill="#ee0000"/>
<circle cx="312.94" cy="243.79" r="1.5" fill="#ee0000"/>
<circle cx="327.27" cy="242.31" r="1.5" fill="#ee0000"/>
<circle cx="341.60" cy="241.05" r="1.5" fill="#ee0000"/>
<path d="M198.30 257.30 L200.10 260.60 L196.50 260.60 Z" fill="#0000ee"/>
<path d="M212.63 247.07 L214.43 250.37 L210.83 250.37 Z" fill="#0000ee"/>
<path d="M226.96 243.06 L228.76 246.36 L225.16 246.36 Z" fill="#0000ee"/>
<path d="M241.29 239.68 L243.09 242.98 L239.49 242.98 Z" fill="#0000ee"/>
<path d="M255.62 237.99 L257.42 241.29 L253.82 241.29 Z" fill="#0000ee"/>
<path d="M269.95 234.62 L271.75 237.92 L268.15 237.92 Z" fill="#0000ee"/>
<path d="M284.28 231.45 L286.08 234.75 L282.48 234.75 Z" fill="#0000ee"/>
<path d="M298.61 230.29 L300.41 233.59 L296.81 233.59 Z" fill="#0000ee"/>
<path d="M312.94 229.45 L314.74 232.75 L311.14 232.75 Z" fill="#0000ee"/>
<path d="M327.27 228.29 L329.07 231.59 L325.47 231.59 Z" fill="#0000ee"/>
<path d="M341.60 226.39 L343.40 229.69 L339.80 229.69 Z" fill="#0000ee"/>
<text class="sf" x="272.6" y="192.9" font-size="12.4" fill="#000">Dry</text>
<text class="sf" x="272.6" y="224.4" font-size="12.4" fill="#1212f2">Wet-Type II</text>
<text class="sf" x="272.6" y="259.8" font-size="12.4" fill="#f21212">Wet-Type I</text>
<defs><linearGradient id="smk" x1="0" y1="0" x2="0" y2="1">
<stop offset="0" stop-color="#1c1c1c"/><stop offset="0.68" stop-color="#181818"/><stop offset="0.71" stop-color="#2e2c2a"/><stop offset="0.73" stop-color="#1a1a1a"/>
<stop offset="0.79" stop-color="#1e1e1c"/><stop offset="0.81" stop-color="#8a867e"/><stop offset="0.84" stop-color="#ddd8d0"/><stop offset="0.9" stop-color="#e8e4dc"/><stop offset="0.95" stop-color="#d8d0c4"/><stop offset="1" stop-color="#c4b4a0"/></linearGradient>
<linearGradient id="smkL" x1="0" y1="0" x2="1" y2="0"><stop offset="0" stop-color="#3a3a3a" stop-opacity="0.7"/><stop offset="0.3" stop-color="#222" stop-opacity="0"/></linearGradient>
<linearGradient id="plume" x1="0" y1="0" x2="0" y2="1"><stop offset="0" stop-color="#b0b0ae"/><stop offset="0.35" stop-color="#929290"/><stop offset="0.75" stop-color="#606060"/><stop offset="1" stop-color="#2a2a2a"/></linearGradient>
<filter id="pbl" x="-30%" y="-30%" width="160%" height="160%"><feGaussianBlur stdDeviation="1.6"/></filter>
<clipPath id="smclip"><rect x="410.9" y="54.6" width="35.8" height="69.9"/></clipPath></defs>
<rect x="410.9" y="54.6" width="35.8" height="69.9" fill="url(#smk)"/>
<rect x="410.9" y="54.6" width="35.8" height="50" fill="url(#smkL)"/>
<g clip-path="url(#smclip)"><path d="M416 53 L424 53 Q433 59.5 441 63 Q443.5 75 441 90 L439 112 L431.5 112 Q431 98 430.8 86 Q430 75 425.5 70 Q418.5 62 416 53 Z" fill="url(#plume)" filter="url(#pbl)" opacity="0.92"/><path d="M417.6 54.5 Q421 64 429.5 72.5 Q432 78 432.5 88" stroke="#d6d6d4" stroke-width="2.6" fill="none" filter="url(#pbl)" opacity="0.8"/><ellipse cx="427" cy="114.8" rx="18" ry="3.2" fill="#f6f4f0" filter="url(#bl05)"/><path d="M412 118.5 Q428 121.5 446 118" stroke="#b0a696" stroke-width="0.8" fill="none" filter="url(#bl05)"/></g>
<rect x="400.6" y="14.8" width="156.60000000000002" height="115.2" fill="none" stroke="#444" stroke-width="0.7"/>
<line x1="400.6" y1="23.70" x2="402.6" y2="23.70" stroke="#444" stroke-width="0.6"/>
<line x1="400.6" y1="32.54" x2="401.8" y2="32.54" stroke="#444" stroke-width="0.6"/>
<line x1="400.6" y1="41.38" x2="402.6" y2="41.38" stroke="#444" stroke-width="0.6"/>
<line x1="400.6" y1="50.23" x2="401.8" y2="50.23" stroke="#444" stroke-width="0.6"/>
<line x1="400.6" y1="59.07" x2="402.6" y2="59.07" stroke="#444" stroke-width="0.6"/>
<line x1="400.6" y1="67.91" x2="401.8" y2="67.91" stroke="#444" stroke-width="0.6"/>
<line x1="400.6" y1="76.75" x2="402.6" y2="76.75" stroke="#444" stroke-width="0.6"/>
<line x1="400.6" y1="85.60" x2="401.8" y2="85.60" stroke="#444" stroke-width="0.6"/>
<line x1="400.6" y1="94.44" x2="402.6" y2="94.44" stroke="#444" stroke-width="0.6"/>
<line x1="400.6" y1="103.28" x2="401.8" y2="103.28" stroke="#444" stroke-width="0.6"/>
<line x1="400.6" y1="112.12" x2="402.6" y2="112.12" stroke="#444" stroke-width="0.6"/>
<line x1="400.6" y1="120.97" x2="401.8" y2="120.97" stroke="#444" stroke-width="0.6"/>
<line x1="400.6" y1="129.81" x2="402.6" y2="129.81" stroke="#444" stroke-width="0.6"/>
<text x="396.1" y="25.80" font-size="6.8" fill="#222" text-anchor="end">0.0</text>
<text x="396.1" y="43.48" font-size="6.8" fill="#222" text-anchor="end">-0.5</text>
<text x="396.1" y="61.17" font-size="6.8" fill="#222" text-anchor="end">-1.0</text>
<text x="396.1" y="78.85" font-size="6.8" fill="#222" text-anchor="end">-1.5</text>
<text x="396.1" y="96.54" font-size="6.8" fill="#222" text-anchor="end">-2.0</text>
<text x="396.1" y="114.22" font-size="6.8" fill="#222" text-anchor="end">-2.5</text>
<text x="396.1" y="131.91" font-size="6.8" fill="#222" text-anchor="end">-3.0</text>
<line x1="411.60" y1="130.0" x2="411.60" y2="128.0" stroke="#444" stroke-width="0.6"/>
<line x1="422.84" y1="130.0" x2="422.84" y2="128.8" stroke="#444" stroke-width="0.6"/>
<line x1="434.08" y1="130.0" x2="434.08" y2="128.0" stroke="#444" stroke-width="0.6"/>
<line x1="445.32" y1="130.0" x2="445.32" y2="128.8" stroke="#444" stroke-width="0.6"/>
<line x1="456.56" y1="130.0" x2="456.56" y2="128.0" stroke="#444" stroke-width="0.6"/>
<line x1="467.80" y1="130.0" x2="467.80" y2="128.8" stroke="#444" stroke-width="0.6"/>
<line x1="479.04" y1="130.0" x2="479.04" y2="128.0" stroke="#444" stroke-width="0.6"/>
<line x1="490.28" y1="130.0" x2="490.28" y2="128.8" stroke="#444" stroke-width="0.6"/>
<line x1="501.52" y1="130.0" x2="501.52" y2="128.0" stroke="#444" stroke-width="0.6"/>
<line x1="512.76" y1="130.0" x2="512.76" y2="128.8" stroke="#444" stroke-width="0.6"/>
<line x1="524.00" y1="130.0" x2="524.00" y2="128.0" stroke="#444" stroke-width="0.6"/>
<line x1="535.24" y1="130.0" x2="535.24" y2="128.8" stroke="#444" stroke-width="0.6"/>
<line x1="546.48" y1="130.0" x2="546.48" y2="128.0" stroke="#444" stroke-width="0.6"/>
<text x="412.10" y="139.80" font-size="7" fill="#222" text-anchor="middle">0</text>
<text x="434.58" y="139.80" font-size="7" fill="#222" text-anchor="middle">10</text>
<text x="457.06" y="139.80" font-size="7" fill="#222" text-anchor="middle">20</text>
<text x="479.54" y="139.80" font-size="7" fill="#222" text-anchor="middle">30</text>
<text x="502.02" y="139.80" font-size="7" fill="#222" text-anchor="middle">40</text>
<text x="524.50" y="139.80" font-size="7" fill="#222" text-anchor="middle">50</text>
<text x="546.98" y="139.80" font-size="7" fill="#222" text-anchor="middle">60</text>
<text x="479.5" y="151.8" font-size="8.5" fill="#222" text-anchor="middle">Time (min)</text>
<text x="0" y="0" font-size="8.7" fill="#222" text-anchor="middle" transform="translate(379.4 79.1) rotate(-90)">Mass change (kg·m<tspan dy="-3" font-size="5.5">-2</tspan><tspan dy="3">)</tspan></text>
<polyline points="411.60,23.70 422.84,25.26 434.08,26.82 445.32,28.39 456.56,29.95 467.80,31.51 479.04,33.07 490.28,34.64 501.52,36.20 512.76,37.76 524.00,39.32 535.24,40.88 546.48,42.45" fill="none" stroke="#555" stroke-width="0.55"/>
<polyline points="411.60,23.70 422.84,28.24 434.08,32.78 445.32,37.32 456.56,41.86 467.80,46.40 479.04,50.93 490.28,55.47 501.52,60.01 512.76,64.55 524.00,69.09 535.24,73.63 546.48,78.17" fill="none" stroke="#ff3030" stroke-width="0.55"/>
<polyline points="411.60,23.70 422.84,31.57 434.08,39.44 445.32,47.31 456.56,55.18 467.80,63.05 479.04,70.92 490.28,78.79 501.52,86.66 512.76,94.53 524.00,102.40 535.24,110.27 546.48,118.14" fill="none" stroke="#4040ff" stroke-width="0.55"/>
<circle cx="411.60" cy="23.70" r="1.6" fill="#000"/>
<circle cx="422.84" cy="25.26" r="1.6" fill="#000"/>
<circle cx="434.08" cy="26.82" r="1.6" fill="#000"/>
<circle cx="445.32" cy="28.39" r="1.6" fill="#000"/>
<circle cx="456.56" cy="29.95" r="1.6" fill="#000"/>
<circle cx="467.80" cy="31.51" r="1.6" fill="#000"/>
<circle cx="479.04" cy="33.07" r="1.6" fill="#000"/>
<circle cx="490.28" cy="34.64" r="1.6" fill="#000"/>
<circle cx="501.52" cy="36.20" r="1.6" fill="#000"/>
<circle cx="512.76" cy="37.76" r="1.6" fill="#000"/>
<circle cx="524.00" cy="39.32" r="1.6" fill="#000"/>
<circle cx="535.24" cy="40.88" r="1.6" fill="#000"/>
<circle cx="546.48" cy="42.45" r="1.6" fill="#000"/>
<circle cx="411.60" cy="23.70" r="1.6" fill="#ee0000"/>
<circle cx="422.84" cy="28.24" r="1.6" fill="#ee0000"/>
<circle cx="434.08" cy="32.78" r="1.6" fill="#ee0000"/>
<circle cx="445.32" cy="37.32" r="1.6" fill="#ee0000"/>
<circle cx="456.56" cy="41.86" r="1.6" fill="#ee0000"/>
<circle cx="467.80" cy="46.40" r="1.6" fill="#ee0000"/>
<circle cx="479.04" cy="50.93" r="1.6" fill="#ee0000"/>
<circle cx="490.28" cy="55.47" r="1.6" fill="#ee0000"/>
<circle cx="501.52" cy="60.01" r="1.6" fill="#ee0000"/>
<circle cx="512.76" cy="64.55" r="1.6" fill="#ee0000"/>
<circle cx="524.00" cy="69.09" r="1.6" fill="#ee0000"/>
<circle cx="535.24" cy="73.63" r="1.6" fill="#ee0000"/>
<circle cx="546.48" cy="78.17" r="1.6" fill="#ee0000"/>
<path d="M411.60 21.70 L413.40 25.00 L409.80 25.00 Z" fill="#0000ee"/>
<path d="M422.84 29.57 L424.64 32.87 L421.04 32.87 Z" fill="#0000ee"/>
<path d="M434.08 37.44 L435.88 40.74 L432.28 40.74 Z" fill="#0000ee"/>
<path d="M445.32 45.31 L447.12 48.61 L443.52 48.61 Z" fill="#0000ee"/>
<path d="M456.56 53.18 L458.36 56.48 L454.76 56.48 Z" fill="#0000ee"/>
<path d="M467.80 61.05 L469.60 64.35 L466.00 64.35 Z" fill="#0000ee"/>
<path d="M479.04 68.92 L480.84 72.22 L477.24 72.22 Z" fill="#0000ee"/>
<path d="M490.28 76.79 L492.08 80.09 L488.48 80.09 Z" fill="#0000ee"/>
<path d="M501.52 84.66 L503.32 87.96 L499.72 87.96 Z" fill="#0000ee"/>
<path d="M512.76 92.53 L514.56 95.83 L510.96 95.83 Z" fill="#0000ee"/>
<path d="M524.00 100.40 L525.80 103.70 L522.20 103.70 Z" fill="#0000ee"/>
<path d="M535.24 108.27 L537.04 111.57 L533.44 111.57 Z" fill="#0000ee"/>
<path d="M546.48 116.14 L548.28 119.44 L544.68 119.44 Z" fill="#0000ee"/>
<line x1="451.8" y1="98.7" x2="471.8" y2="98.7" stroke="#b0b0b0" stroke-width="0.8"/>
<circle cx="461.8" cy="98.7" r="1.6" fill="#000"/>
<text class="sr" x="476.2" y="101.8" font-size="8.6" fill="#333">Blank</text>
<line x1="451.8" y1="109.3" x2="471.8" y2="109.3" stroke="#ff7070" stroke-width="0.8"/>
<circle cx="461.8" cy="109.3" r="1.6" fill="#ee0000"/>
<text class="sr" x="476.2" y="112.4" font-size="8.6" fill="#333">Type1</text>
<line x1="451.8" y1="119.9" x2="471.8" y2="119.9" stroke="#7070ff" stroke-width="0.8"/>
<path d="M461.8 117.9 L463.7 121.30000000000001 L459.90000000000003 121.30000000000001 Z" fill="#0000ee"/>
<text class="sr" x="476.2" y="123.0" font-size="8.6" fill="#333">Type2</text>
<rect x="400.7" y="165.9" width="29.5" height="115.1" fill="none" stroke="#7a7a7a" stroke-width="0.8"/>
<line x1="400.7" y1="173.90" x2="402.3" y2="173.90" stroke="#555" stroke-width="0.5"/>
<line x1="400.7" y1="181.60" x2="401.7" y2="181.60" stroke="#555" stroke-width="0.5"/>
<line x1="400.7" y1="189.30" x2="402.3" y2="189.30" stroke="#555" stroke-width="0.5"/>
<line x1="400.7" y1="197.00" x2="401.7" y2="197.00" stroke="#555" stroke-width="0.5"/>
<line x1="400.7" y1="204.70" x2="402.3" y2="204.70" stroke="#555" stroke-width="0.5"/>
<line x1="400.7" y1="212.40" x2="401.7" y2="212.40" stroke="#555" stroke-width="0.5"/>
<line x1="400.7" y1="220.10" x2="402.3" y2="220.10" stroke="#555" stroke-width="0.5"/>
<line x1="400.7" y1="227.80" x2="401.7" y2="227.80" stroke="#555" stroke-width="0.5"/>
<line x1="400.7" y1="235.50" x2="402.3" y2="235.50" stroke="#555" stroke-width="0.5"/>
<line x1="400.7" y1="243.20" x2="401.7" y2="243.20" stroke="#555" stroke-width="0.5"/>
<line x1="400.7" y1="250.90" x2="402.3" y2="250.90" stroke="#555" stroke-width="0.5"/>
<line x1="400.7" y1="258.60" x2="401.7" y2="258.60" stroke="#555" stroke-width="0.5"/>
<line x1="400.7" y1="266.30" x2="402.3" y2="266.30" stroke="#555" stroke-width="0.5"/>
<line x1="400.7" y1="274.00" x2="401.7" y2="274.00" stroke="#555" stroke-width="0.5"/>
<line x1="400.7" y1="281.70" x2="402.3" y2="281.70" stroke="#555" stroke-width="0.5"/>
<line x1="403.10" y1="281.0" x2="403.10" y2="279.4" stroke="#555" stroke-width="0.5"/>
<line x1="415.70" y1="281.0" x2="415.70" y2="279.4" stroke="#555" stroke-width="0.5"/>
<line x1="428.30" y1="281.0" x2="428.30" y2="279.4" stroke="#555" stroke-width="0.5"/>
<text x="403.30" y="290.50" font-size="6.8" fill="#222" text-anchor="middle">0</text>
<text x="428.30" y="290.50" font-size="6.8" fill="#222" text-anchor="middle">1</text>
<polyline points="403.10,173.90 405.20,180.55 407.30,187.20 409.40,193.84 411.50,200.49 413.60,207.14 415.70,213.79 417.80,220.43 419.90,227.08 422.00,233.73 424.10,240.38 426.20,247.02 428.30,253.67" fill="none" stroke="#222" stroke-width="0.5" stroke-dasharray="1 1"/>
<circle cx="403.10" cy="173.90" r="1.6" fill="#000"/>
<circle cx="405.20" cy="180.55" r="1.6" fill="#000"/>
<circle cx="407.30" cy="187.20" r="1.6" fill="#000"/>
<circle cx="409.40" cy="193.84" r="1.6" fill="#000"/>
<circle cx="411.50" cy="200.49" r="1.6" fill="#000"/>
<circle cx="413.60" cy="207.14" r="1.6" fill="#000"/>
<circle cx="415.70" cy="213.79" r="1.6" fill="#000"/>
<circle cx="417.80" cy="220.43" r="1.6" fill="#000"/>
<circle cx="419.90" cy="227.08" r="1.6" fill="#000"/>
<circle cx="422.00" cy="233.73" r="1.6" fill="#000"/>
<circle cx="424.10" cy="240.38" r="1.6" fill="#000"/>
<circle cx="426.20" cy="247.02" r="1.6" fill="#000"/>
<circle cx="428.30" cy="253.67" r="1.6" fill="#000"/>
<rect x="431.8" y="165.9" width="29.5" height="115.1" fill="none" stroke="#7a7a7a" stroke-width="0.8"/>
<line x1="431.8" y1="173.90" x2="433.40000000000003" y2="173.90" stroke="#555" stroke-width="0.5"/>
<line x1="431.8" y1="181.60" x2="432.8" y2="181.60" stroke="#555" stroke-width="0.5"/>
<line x1="431.8" y1="189.30" x2="433.40000000000003" y2="189.30" stroke="#555" stroke-width="0.5"/>
<line x1="431.8" y1="197.00" x2="432.8" y2="197.00" stroke="#555" stroke-width="0.5"/>
<line x1="431.8" y1="204.70" x2="433.40000000000003" y2="204.70" stroke="#555" stroke-width="0.5"/>
<line x1="431.8" y1="212.40" x2="432.8" y2="212.40" stroke="#555" stroke-width="0.5"/>
<line x1="431.8" y1="220.10" x2="433.40000000000003" y2="220.10" stroke="#555" stroke-width="0.5"/>
<line x1="431.8" y1="227.80" x2="432.8" y2="227.80" stroke="#555" stroke-width="0.5"/>
<line x1="431.8" y1="235.50" x2="433.40000000000003" y2="235.50" stroke="#555" stroke-width="0.5"/>
<line x1="431.8" y1="243.20" x2="432.8" y2="243.20" stroke="#555" stroke-width="0.5"/>
<line x1="431.8" y1="250.90" x2="433.40000000000003" y2="250.90" stroke="#555" stroke-width="0.5"/>
<line x1="431.8" y1="258.60" x2="432.8" y2="258.60" stroke="#555" stroke-width="0.5"/>
<line x1="431.8" y1="266.30" x2="433.40000000000003" y2="266.30" stroke="#555" stroke-width="0.5"/>
<line x1="431.8" y1="274.00" x2="432.8" y2="274.00" stroke="#555" stroke-width="0.5"/>
<line x1="431.8" y1="281.70" x2="433.40000000000003" y2="281.70" stroke="#555" stroke-width="0.5"/>
<line x1="434.20" y1="281.0" x2="434.20" y2="279.4" stroke="#555" stroke-width="0.5"/>
<line x1="446.80" y1="281.0" x2="446.80" y2="279.4" stroke="#555" stroke-width="0.5"/>
<line x1="459.40" y1="281.0" x2="459.40" y2="279.4" stroke="#555" stroke-width="0.5"/>
<text x="434.40" y="290.50" font-size="6.8" fill="#222" text-anchor="middle">0</text>
<text x="459.40" y="290.50" font-size="6.8" fill="#222" text-anchor="middle">1</text>
<polyline points="434.20,173.90 436.30,180.60 438.40,187.30 440.50,194.00 442.60,200.70 444.70,207.40 446.80,214.09 448.90,220.79 451.00,227.49 453.10,234.19 455.20,240.89 457.30,247.59 459.40,254.29" fill="none" stroke="#222" stroke-width="0.5" stroke-dasharray="1 1"/>
<circle cx="434.20" cy="173.90" r="1.6" fill="#000"/>
<circle cx="436.30" cy="180.60" r="1.6" fill="#000"/>
<circle cx="438.40" cy="187.30" r="1.6" fill="#000"/>
<circle cx="440.50" cy="194.00" r="1.6" fill="#000"/>
<circle cx="442.60" cy="200.70" r="1.6" fill="#000"/>
<circle cx="444.70" cy="207.40" r="1.6" fill="#000"/>
<circle cx="446.80" cy="214.09" r="1.6" fill="#000"/>
<circle cx="448.90" cy="220.79" r="1.6" fill="#000"/>
<circle cx="451.00" cy="227.49" r="1.6" fill="#000"/>
<circle cx="453.10" cy="234.19" r="1.6" fill="#000"/>
<circle cx="455.20" cy="240.89" r="1.6" fill="#000"/>
<circle cx="457.30" cy="247.59" r="1.6" fill="#000"/>
<circle cx="459.40" cy="254.29" r="1.6" fill="#000"/>
<rect x="463.3" y="165.9" width="29.5" height="115.1" fill="none" stroke="#7a7a7a" stroke-width="0.8"/>
<line x1="463.3" y1="173.90" x2="464.90000000000003" y2="173.90" stroke="#555" stroke-width="0.5"/>
<line x1="463.3" y1="181.60" x2="464.3" y2="181.60" stroke="#555" stroke-width="0.5"/>
<line x1="463.3" y1="189.30" x2="464.90000000000003" y2="189.30" stroke="#555" stroke-width="0.5"/>
<line x1="463.3" y1="197.00" x2="464.3" y2="197.00" stroke="#555" stroke-width="0.5"/>
<line x1="463.3" y1="204.70" x2="464.90000000000003" y2="204.70" stroke="#555" stroke-width="0.5"/>
<line x1="463.3" y1="212.40" x2="464.3" y2="212.40" stroke="#555" stroke-width="0.5"/>
<line x1="463.3" y1="220.10" x2="464.90000000000003" y2="220.10" stroke="#555" stroke-width="0.5"/>
<line x1="463.3" y1="227.80" x2="464.3" y2="227.80" stroke="#555" stroke-width="0.5"/>
<line x1="463.3" y1="235.50" x2="464.90000000000003" y2="235.50" stroke="#555" stroke-width="0.5"/>
<line x1="463.3" y1="243.20" x2="464.3" y2="243.20" stroke="#555" stroke-width="0.5"/>
<line x1="463.3" y1="250.90" x2="464.90000000000003" y2="250.90" stroke="#555" stroke-width="0.5"/>
<line x1="463.3" y1="258.60" x2="464.3" y2="258.60" stroke="#555" stroke-width="0.5"/>
<line x1="463.3" y1="266.30" x2="464.90000000000003" y2="266.30" stroke="#555" stroke-width="0.5"/>
<line x1="463.3" y1="274.00" x2="464.3" y2="274.00" stroke="#555" stroke-width="0.5"/>
<line x1="463.3" y1="281.70" x2="464.90000000000003" y2="281.70" stroke="#555" stroke-width="0.5"/>
<line x1="465.70" y1="281.0" x2="465.70" y2="279.4" stroke="#555" stroke-width="0.5"/>
<line x1="478.30" y1="281.0" x2="478.30" y2="279.4" stroke="#555" stroke-width="0.5"/>
<line x1="490.90" y1="281.0" x2="490.90" y2="279.4" stroke="#555" stroke-width="0.5"/>
<text x="465.90" y="290.50" font-size="6.8" fill="#222" text-anchor="middle">0</text>
<text x="490.90" y="290.50" font-size="6.8" fill="#222" text-anchor="middle">1</text>
<polyline points="465.70,173.90 467.80,180.70 469.90,187.50 472.00,194.31 474.10,201.11 476.20,207.91 478.30,214.71 480.40,221.51 482.50,228.31 484.60,235.12 486.70,241.92 488.80,248.72 490.90,255.52" fill="none" stroke="#222" stroke-width="0.5" stroke-dasharray="1 1"/>
<circle cx="465.70" cy="173.90" r="1.6" fill="#000"/>
<circle cx="467.80" cy="180.70" r="1.6" fill="#000"/>
<circle cx="469.90" cy="187.50" r="1.6" fill="#000"/>
<circle cx="472.00" cy="194.31" r="1.6" fill="#000"/>
<circle cx="474.10" cy="201.11" r="1.6" fill="#000"/>
<circle cx="476.20" cy="207.91" r="1.6" fill="#000"/>
<circle cx="478.30" cy="214.71" r="1.6" fill="#000"/>
<circle cx="480.40" cy="221.51" r="1.6" fill="#000"/>
<circle cx="482.50" cy="228.31" r="1.6" fill="#000"/>
<circle cx="484.60" cy="235.12" r="1.6" fill="#000"/>
<circle cx="486.70" cy="241.92" r="1.6" fill="#000"/>
<circle cx="488.80" cy="248.72" r="1.6" fill="#000"/>
<circle cx="490.90" cy="255.52" r="1.6" fill="#000"/>
<rect x="494.9" y="165.9" width="29.5" height="115.1" fill="none" stroke="#7a7a7a" stroke-width="0.8"/>
<line x1="494.9" y1="173.90" x2="496.5" y2="173.90" stroke="#555" stroke-width="0.5"/>
<line x1="494.9" y1="181.60" x2="495.9" y2="181.60" stroke="#555" stroke-width="0.5"/>
<line x1="494.9" y1="189.30" x2="496.5" y2="189.30" stroke="#555" stroke-width="0.5"/>
<line x1="494.9" y1="197.00" x2="495.9" y2="197.00" stroke="#555" stroke-width="0.5"/>
<line x1="494.9" y1="204.70" x2="496.5" y2="204.70" stroke="#555" stroke-width="0.5"/>
<line x1="494.9" y1="212.40" x2="495.9" y2="212.40" stroke="#555" stroke-width="0.5"/>
<line x1="494.9" y1="220.10" x2="496.5" y2="220.10" stroke="#555" stroke-width="0.5"/>
<line x1="494.9" y1="227.80" x2="495.9" y2="227.80" stroke="#555" stroke-width="0.5"/>
<line x1="494.9" y1="235.50" x2="496.5" y2="235.50" stroke="#555" stroke-width="0.5"/>
<line x1="494.9" y1="243.20" x2="495.9" y2="243.20" stroke="#555" stroke-width="0.5"/>
<line x1="494.9" y1="250.90" x2="496.5" y2="250.90" stroke="#555" stroke-width="0.5"/>
<line x1="494.9" y1="258.60" x2="495.9" y2="258.60" stroke="#555" stroke-width="0.5"/>
<line x1="494.9" y1="266.30" x2="496.5" y2="266.30" stroke="#555" stroke-width="0.5"/>
<line x1="494.9" y1="274.00" x2="495.9" y2="274.00" stroke="#555" stroke-width="0.5"/>
<line x1="494.9" y1="281.70" x2="496.5" y2="281.70" stroke="#555" stroke-width="0.5"/>
<line x1="497.30" y1="281.0" x2="497.30" y2="279.4" stroke="#555" stroke-width="0.5"/>
<line x1="509.90" y1="281.0" x2="509.90" y2="279.4" stroke="#555" stroke-width="0.5"/>
<line x1="522.50" y1="281.0" x2="522.50" y2="279.4" stroke="#555" stroke-width="0.5"/>
<text x="497.50" y="290.50" font-size="6.8" fill="#222" text-anchor="middle">0</text>
<text x="522.50" y="290.50" font-size="6.8" fill="#222" text-anchor="middle">1</text>
<polyline points="497.30,173.90 499.40,180.80 501.50,187.71 503.60,194.61 505.70,201.52 507.80,208.42 509.90,215.33 512.00,222.23 514.10,229.13 516.20,236.04 518.30,242.94 520.40,249.85 522.50,256.75" fill="none" stroke="#222" stroke-width="0.5" stroke-dasharray="1 1"/>
<circle cx="497.30" cy="173.90" r="1.6" fill="#000"/>
<circle cx="499.40" cy="180.80" r="1.6" fill="#000"/>
<circle cx="501.50" cy="187.71" r="1.6" fill="#000"/>
<circle cx="503.60" cy="194.61" r="1.6" fill="#000"/>
<circle cx="505.70" cy="201.52" r="1.6" fill="#000"/>
<circle cx="507.80" cy="208.42" r="1.6" fill="#000"/>
<circle cx="509.90" cy="215.33" r="1.6" fill="#000"/>
<circle cx="512.00" cy="222.23" r="1.6" fill="#000"/>
<circle cx="514.10" cy="229.13" r="1.6" fill="#000"/>
<circle cx="516.20" cy="236.04" r="1.6" fill="#000"/>
<circle cx="518.30" cy="242.94" r="1.6" fill="#000"/>
<circle cx="520.40" cy="249.85" r="1.6" fill="#000"/>
<circle cx="522.50" cy="256.75" r="1.6" fill="#000"/>
<rect x="526.5" y="165.9" width="29.5" height="115.1" fill="none" stroke="#7a7a7a" stroke-width="0.8"/>
<line x1="526.5" y1="173.90" x2="528.1" y2="173.90" stroke="#555" stroke-width="0.5"/>
<line x1="526.5" y1="181.60" x2="527.5" y2="181.60" stroke="#555" stroke-width="0.5"/>
<line x1="526.5" y1="189.30" x2="528.1" y2="189.30" stroke="#555" stroke-width="0.5"/>
<line x1="526.5" y1="197.00" x2="527.5" y2="197.00" stroke="#555" stroke-width="0.5"/>
<line x1="526.5" y1="204.70" x2="528.1" y2="204.70" stroke="#555" stroke-width="0.5"/>
<line x1="526.5" y1="212.40" x2="527.5" y2="212.40" stroke="#555" stroke-width="0.5"/>
<line x1="526.5" y1="220.10" x2="528.1" y2="220.10" stroke="#555" stroke-width="0.5"/>
<line x1="526.5" y1="227.80" x2="527.5" y2="227.80" stroke="#555" stroke-width="0.5"/>
<line x1="526.5" y1="235.50" x2="528.1" y2="235.50" stroke="#555" stroke-width="0.5"/>
<line x1="526.5" y1="243.20" x2="527.5" y2="243.20" stroke="#555" stroke-width="0.5"/>
<line x1="526.5" y1="250.90" x2="528.1" y2="250.90" stroke="#555" stroke-width="0.5"/>
<line x1="526.5" y1="258.60" x2="527.5" y2="258.60" stroke="#555" stroke-width="0.5"/>
<line x1="526.5" y1="266.30" x2="528.1" y2="266.30" stroke="#555" stroke-width="0.5"/>
<line x1="526.5" y1="274.00" x2="527.5" y2="274.00" stroke="#555" stroke-width="0.5"/>
<line x1="526.5" y1="281.70" x2="528.1" y2="281.70" stroke="#555" stroke-width="0.5"/>
<line x1="528.90" y1="281.0" x2="528.90" y2="279.4" stroke="#555" stroke-width="0.5"/>
<line x1="541.50" y1="281.0" x2="541.50" y2="279.4" stroke="#555" stroke-width="0.5"/>
<line x1="554.10" y1="281.0" x2="554.10" y2="279.4" stroke="#555" stroke-width="0.5"/>
<text x="529.10" y="290.50" font-size="6.8" fill="#222" text-anchor="middle">0</text>
<text x="554.10" y="290.50" font-size="6.8" fill="#222" text-anchor="middle">1</text>
<polyline points="528.90,173.90 531.00,180.86 533.10,187.81 535.20,194.77 537.30,201.72 539.40,208.68 541.50,215.63 543.60,222.59 545.70,229.55 547.80,236.50 549.90,243.46 552.00,250.41 554.10,257.37" fill="none" stroke="#222" stroke-width="0.5" stroke-dasharray="1 1"/>
<circle cx="528.90" cy="173.90" r="1.6" fill="#000"/>
<circle cx="531.00" cy="180.86" r="1.6" fill="#000"/>
<circle cx="533.10" cy="187.81" r="1.6" fill="#000"/>
<circle cx="535.20" cy="194.77" r="1.6" fill="#000"/>
<circle cx="537.30" cy="201.72" r="1.6" fill="#000"/>
<circle cx="539.40" cy="208.68" r="1.6" fill="#000"/>
<circle cx="541.50" cy="215.63" r="1.6" fill="#000"/>
<circle cx="543.60" cy="222.59" r="1.6" fill="#000"/>
<circle cx="545.70" cy="229.55" r="1.6" fill="#000"/>
<circle cx="547.80" cy="236.50" r="1.6" fill="#000"/>
<circle cx="549.90" cy="243.46" r="1.6" fill="#000"/>
<circle cx="552.00" cy="250.41" r="1.6" fill="#000"/>
<circle cx="554.10" cy="257.37" r="1.6" fill="#000"/>
<text x="397.09999999999997" y="175.90" font-size="6.8" fill="#222" text-anchor="end">0.0</text>
<text x="397.09999999999997" y="191.30" font-size="6.8" fill="#222" text-anchor="end">-0.5</text>
<text x="397.09999999999997" y="206.70" font-size="6.8" fill="#222" text-anchor="end">-1.0</text>
<text x="397.09999999999997" y="222.10" font-size="6.8" fill="#222" text-anchor="end">-1.5</text>
<text x="397.09999999999997" y="237.50" font-size="6.8" fill="#222" text-anchor="end">-2.0</text>
<text x="397.09999999999997" y="252.90" font-size="6.8" fill="#222" text-anchor="end">-2.5</text>
<text x="397.09999999999997" y="268.30" font-size="6.8" fill="#222" text-anchor="end">-3.0</text>
<text x="397.09999999999997" y="283.70" font-size="6.8" fill="#222" text-anchor="end">-3.5</text>
<text x="478.6" y="301.3" font-size="8.5" fill="#222" text-anchor="middle">Time (h)</text>
<text x="0" y="0" font-size="8.5" fill="#222" text-anchor="middle" transform="translate(381 229.4) rotate(-90)">Mass change (kg·m<tspan dy="-3" font-size="5.5">-2</tspan><tspan dy="3">)</tspan></text>
</svg></body></html>
